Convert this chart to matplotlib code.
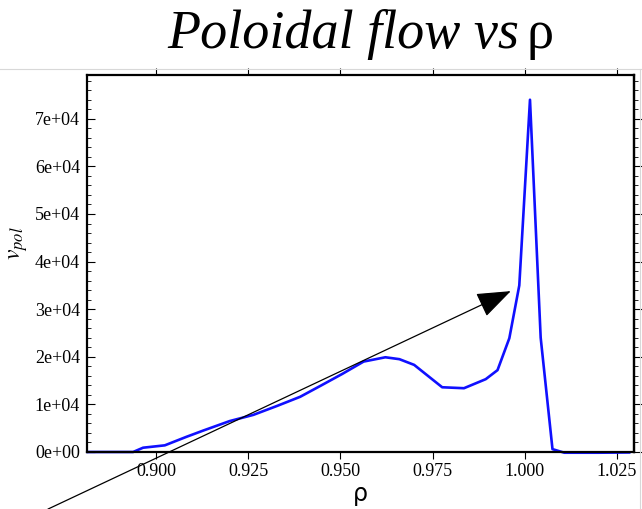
import matplotlib
matplotlib.use("Agg")
from matplotlib import pyplot, ticker
from matplotlib.lines import Line2D

# poloidal flow profile
rho = [0.8815, 0.8938, 0.8965, 0.9024, 0.9083, 0.9128, 0.9200, 0.9264,
       0.9329, 0.9391, 0.9446, 0.9505, 0.9563, 0.9622, 0.9660, 0.9700,
       0.9776, 0.9835, 0.9894, 0.9926, 0.9958, 0.9985, 1.0014, 1.0043,
       1.0075, 1.0107, 1.0200, 1.0283]
v_pol = [0, 0, 900, 1400, 3200, 4500, 6500, 7800,
         9700, 11600, 13900, 16400, 19000, 19900, 19500, 18300,
         13600, 13400, 15300, 17200, 23900, 35000, 74000, 24000,
         600, -150, -150, -100]

x_ticks = [0.900, 0.925, 0.950, 0.975, 1.000, 1.025]
y_ticks = [0, 1e4, 2e4, 3e4, 4e4, 5e4, 6e4, 7e4]
y_tick_labels = ["0e+00", "1e+04", "2e+04", "3e+04", "4e+04", "5e+04", "6e+04", "7e+04"]

arrow_tail = (0.8707, -12000)
arrow_tip = (0.9962, 33800)

pyplot.rcParams["mathtext.fontset"] = "stix"
serif = "Liberation Serif"


def main():
    fig = pyplot.figure(figsize=(6.42, 5.09), dpi=100)
    ax = fig.add_axes([87 / 642, 57 / 509, 547 / 642, 377 / 509])

    # faint frame lines of the window behind
    fig.add_artist(Line2D([0, 1], [1 - 69 / 509] * 2, color="#d8d8d8", lw=0.8))
    fig.add_artist(Line2D([640 / 642] * 2, [0, 1 - 69 / 509], color="#d8d8d8", lw=0.8))

    ax.plot(rho, v_pol, color="#1010ff", lw=1.9, solid_joinstyle="round", clip_on=False)

    ax.annotate("", xy=arrow_tip, xytext=arrow_tail, xycoords="data",
                annotation_clip=False,
                arrowprops=dict(arrowstyle="-|>,head_length=2.15,head_width=0.8",
                                color="black", lw=0.9, shrinkA=0, shrinkB=0))

    ax.set_xlim(0.8813, 1.0296)
    ax.set_ylim(0, 79200)

    ax.set_xticks(x_ticks)
    ax.set_xticklabels(["%.3f" % t for t in x_ticks])
    ax.set_yticks(y_ticks)
    ax.set_yticklabels(y_tick_labels)
    ax.yaxis.set_minor_locator(ticker.MultipleLocator(2000))

    for lab in ax.get_xticklabels() + ax.get_yticklabels():
        lab.set_fontfamily(serif)
        lab.set_fontsize(13)

    ax.tick_params(axis="x", which="major", direction="out", length=5, width=0.8,
                   top=True, pad=3, colors="black")
    ax.tick_params(axis="y", which="major", direction="in", length=6, width=0.8,
                   pad=5)
    ax.tick_params(axis="y", which="minor", direction="in", length=3, width=0.6)

    # right side ticks point outward
    ax_r = ax.secondary_yaxis("right")
    ax_r.set_yticks(y_ticks)
    ax_r.yaxis.set_minor_locator(ticker.MultipleLocator(2000))
    ax_r.tick_params(axis="y", which="major", direction="out", length=6, width=0.8,
                     labelright=False)
    ax_r.tick_params(axis="y", which="minor", direction="out", length=3, width=0.6)
    ax_r.spines["right"].set_linewidth(1.6)

    for s in ax.spines.values():
        s.set_linewidth(1.6)

    ax.set_xlabel("ρ", fontsize=17, family="DejaVu Sans", labelpad=1)
    ax.set_ylabel("$v_{pol}$", fontsize=17)
    ax.yaxis.set_label_coords(-0.104, 0.555)

    # title: italic words, upright rho
    base = 1 - 48 / 509
    fig.text(519 / 642, base, "Poloidal flow vs", ha="right", va="baseline",
             fontsize=39, family=serif, style="italic")
    fig.text(526 / 642, base, "ρ", ha="left", va="baseline",
             fontsize=39, family=serif)

    fig.savefig("out.png", dpi=100, facecolor="white")


if __name__ == "__main__":
    main()
